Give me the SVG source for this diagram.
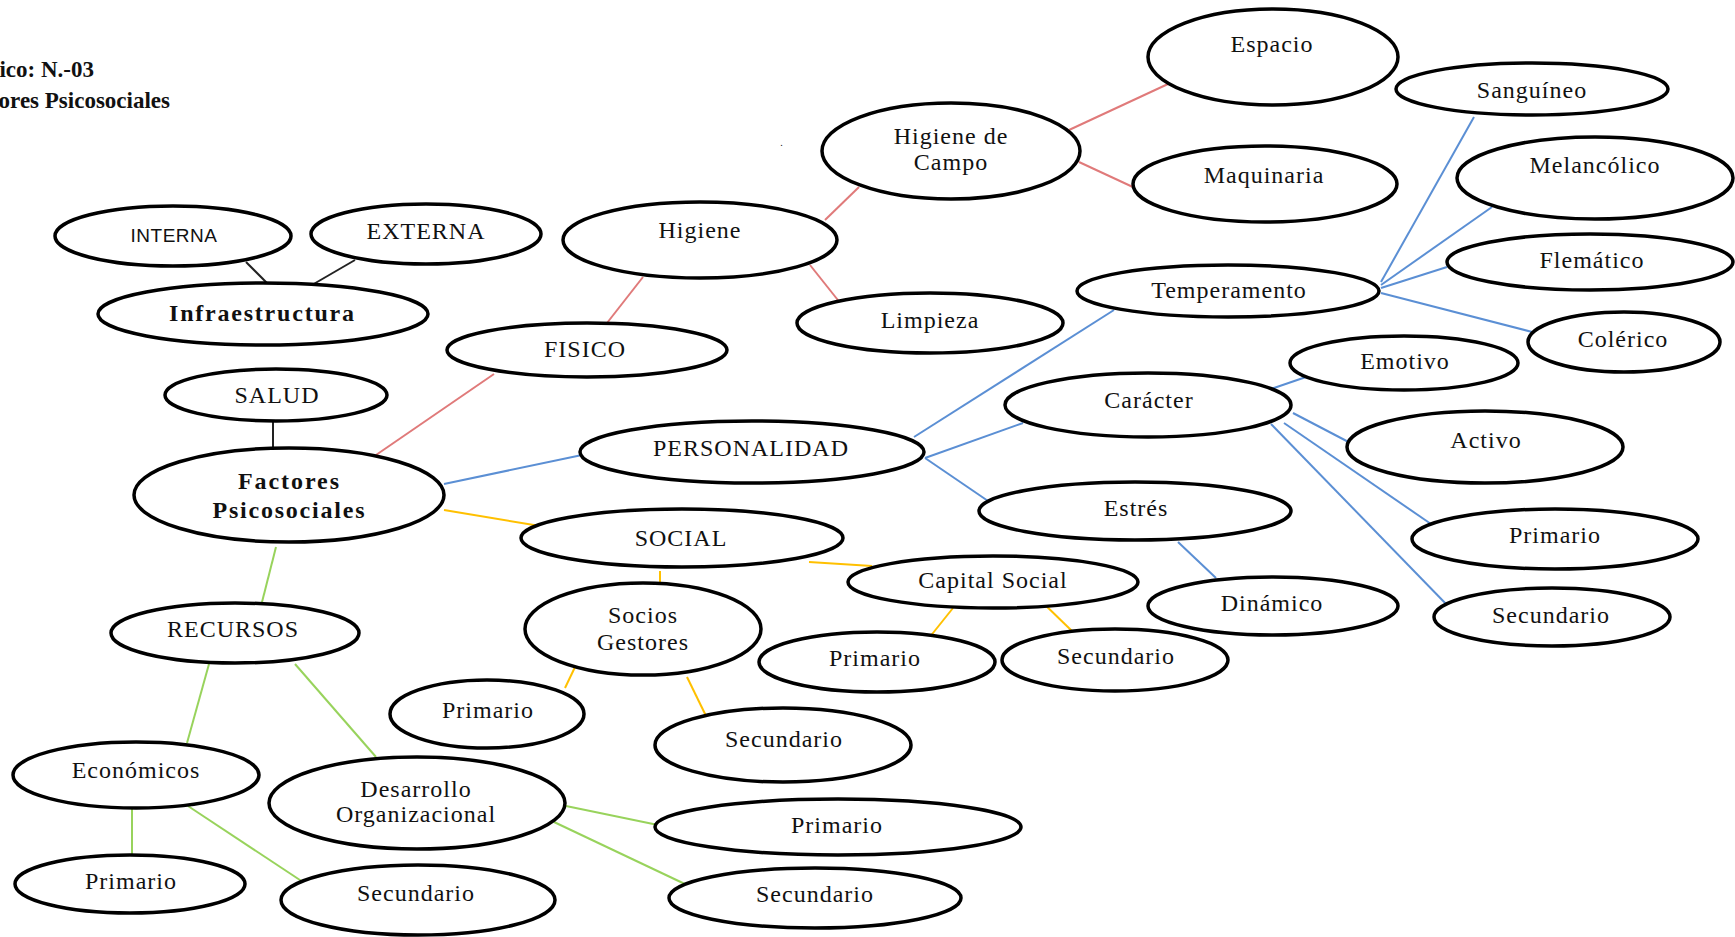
<svg xmlns="http://www.w3.org/2000/svg" width="1735" height="937" viewBox="0 0 1735 937">
<style>
.n ellipse{fill:#fff;stroke:#000;stroke-width:3.5}
text{font-family:"Liberation Serif","Times New Roman",serif;font-size:24px;fill:#111;text-anchor:middle;letter-spacing:1px}
.b{font-weight:bold}
.s{font-family:"Liberation Sans",Arial,sans-serif;font-size:19px;letter-spacing:0.5px}
.t{font-weight:bold;font-size:23px;text-anchor:end;letter-spacing:0}
#connectors line{stroke-width:2;fill:none}
.k{stroke:#222}
.r{stroke:#e07a7a}
.u{stroke:#5b8fd4}
.y{stroke:#ffc000}
.g{stroke:#98d35c}
</style>
<rect width="1735" height="937" fill="#fff"/>
<g id="title">
<text class="t" x="94" y="77">ico: N.-03</text>
<text class="t" x="170" y="108">ores Psicosociales</text>
<text x="782" y="146" style="font-size:10px">.</text>
</g>
<g id="connectors">
<line class="k" x1="246" y1="262" x2="269" y2="285"/>
<line class="k" x1="355" y1="260" x2="312" y2="285"/>
<line class="k" x1="273" y1="421" x2="273" y2="449"/>
<line class="r" x1="376" y1="455" x2="494" y2="374"/>
<line class="r" x1="607" y1="323" x2="643" y2="277"/>
<line class="r" x1="825" y1="220" x2="859" y2="187"/>
<line class="r" x1="810" y1="265" x2="845" y2="309"/>
<line class="r" x1="1069" y1="130" x2="1168" y2="84"/>
<line class="r" x1="1079" y1="162" x2="1135" y2="188"/>
<line class="u" x1="444" y1="484" x2="582" y2="455"/>
<line class="u" x1="914" y1="437" x2="1114" y2="310"/>
<line class="u" x1="925" y1="458" x2="1023" y2="423"/>
<line class="u" x1="925" y1="458" x2="991" y2="503"/>
<line class="u" x1="1381" y1="282" x2="1474" y2="117"/>
<line class="u" x1="1381" y1="285" x2="1492" y2="207"/>
<line class="u" x1="1381" y1="288" x2="1447" y2="267"/>
<line class="u" x1="1381" y1="293" x2="1540" y2="334"/>
<line class="u" x1="1271" y1="389" x2="1306" y2="377"/>
<line class="u" x1="1293" y1="413" x2="1360" y2="448"/>
<line class="u" x1="1284" y1="423" x2="1431" y2="524"/>
<line class="u" x1="1271" y1="424" x2="1449" y2="607"/>
<line class="u" x1="1178" y1="542" x2="1216" y2="578"/>
<line class="y" x1="444" y1="510" x2="540" y2="526"/>
<line class="y" x1="809" y1="562" x2="872" y2="566"/>
<line class="y" x1="660" y1="571" x2="660" y2="590"/>
<line class="y" x1="576" y1="665" x2="565" y2="688"/>
<line class="y" x1="687" y1="677" x2="708" y2="720"/>
<line class="y" x1="953" y1="608" x2="929" y2="638"/>
<line class="y" x1="1040" y1="600" x2="1072" y2="631"/>
<line class="g" x1="276" y1="547" x2="260" y2="610"/>
<line class="g" x1="209" y1="664" x2="187" y2="743"/>
<line class="g" x1="295" y1="664" x2="376" y2="757"/>
<line class="g" x1="132" y1="809" x2="132" y2="855"/>
<line class="g" x1="188" y1="806" x2="309" y2="886"/>
<line class="g" x1="566" y1="806" x2="658" y2="825"/>
<line class="g" x1="554" y1="822" x2="687" y2="885"/>
</g>
<g id="interna" class="n"><ellipse cx="173" cy="236" rx="118" ry="30"/><text class="s" x="174" y="242">INTERNA</text></g>
<g id="externa" class="n"><ellipse cx="426" cy="234" rx="115" ry="30"/><text x="426" y="239">EXTERNA</text></g>
<g id="infraestructura" class="n"><ellipse cx="263" cy="314" rx="165" ry="31"/><text class="b" x="262" y="321" textLength="186" lengthAdjust="spacing">Infraestructura</text></g>
<g id="salud" class="n"><ellipse cx="276" cy="395" rx="111" ry="26"/><text x="277" y="403">SALUD</text></g>
<g id="factores" class="n"><ellipse cx="289" cy="495" rx="155" ry="47"/><text class="b" x="289" y="489" textLength="102" lengthAdjust="spacing">Factores</text><text class="b" x="289" y="518" textLength="153" lengthAdjust="spacing">Psicosociales</text></g>
<g id="fisico" class="n"><ellipse cx="587" cy="350" rx="140" ry="27"/><text x="585" y="357">FISICO</text></g>
<g id="higiene" class="n"><ellipse cx="700" cy="240" rx="137" ry="38"/><text x="700" y="238">Higiene</text></g>
<g id="higiene-campo" class="n"><ellipse cx="951" cy="151" rx="129" ry="48"/><text x="951" y="144">Higiene de</text><text x="951" y="170">Campo</text></g>
<g id="limpieza" class="n"><ellipse cx="930" cy="323" rx="133" ry="30"/><text x="930" y="328">Limpieza</text></g>
<g id="espacio" class="n"><ellipse cx="1273" cy="57" rx="125" ry="48"/><text x="1272" y="52">Espacio</text></g>
<g id="maquinaria" class="n"><ellipse cx="1265" cy="184" rx="132" ry="38"/><text x="1264" y="183">Maquinaria</text></g>
<g id="sanguineo" class="n"><ellipse cx="1532" cy="89" rx="136" ry="26"/><text x="1532" y="98">Sanguíneo</text></g>
<g id="melancolico" class="n"><ellipse cx="1595" cy="178" rx="138" ry="41"/><text x="1595" y="173">Melancólico</text></g>
<g id="flematico" class="n"><ellipse cx="1590" cy="262" rx="143" ry="28"/><text x="1592" y="268">Flemático</text></g>
<g id="temperamento" class="n"><ellipse cx="1228" cy="291" rx="151" ry="26"/><text x="1229" y="298">Temperamento</text></g>
<g id="colerico" class="n"><ellipse cx="1624" cy="342" rx="96" ry="30"/><text x="1623" y="347">Colérico</text></g>
<g id="emotivo" class="n"><ellipse cx="1404" cy="363" rx="114" ry="27"/><text x="1405" y="369">Emotivo</text></g>
<g id="caracter" class="n"><ellipse cx="1148" cy="405" rx="143" ry="32"/><text x="1149" y="408">Carácter</text></g>
<g id="activo" class="n"><ellipse cx="1485" cy="447" rx="138" ry="36"/><text x="1486" y="448">Activo</text></g>
<g id="estres" class="n"><ellipse cx="1135" cy="511" rx="156" ry="29"/><text x="1136" y="516">Estrés</text></g>
<g id="primario-caracter" class="n"><ellipse cx="1555" cy="539" rx="143" ry="30"/><text x="1555" y="543">Primario</text></g>
<g id="dinamico" class="n"><ellipse cx="1273" cy="606" rx="125" ry="29"/><text x="1272" y="611">Dinámico</text></g>
<g id="secundario-caracter" class="n"><ellipse cx="1552" cy="617" rx="118" ry="29"/><text x="1551" y="623">Secundario</text></g>
<g id="personalidad" class="n"><ellipse cx="752" cy="452" rx="172" ry="31"/><text x="751" y="456">PERSONALIDAD</text></g>
<g id="social" class="n"><ellipse cx="682" cy="538" rx="161" ry="29"/><text x="681" y="546">SOCIAL</text></g>
<g id="capital-social" class="n"><ellipse cx="993" cy="582" rx="145" ry="26"/><text x="993" y="588">Capital Social</text></g>
<g id="socios-gestores" class="n"><ellipse cx="643" cy="629" rx="118" ry="46"/><text x="643" y="623">Socios</text><text x="643" y="650">Gestores</text></g>
<g id="primario-capital" class="n"><ellipse cx="877" cy="662" rx="118" ry="30"/><text x="875" y="666">Primario</text></g>
<g id="secundario-capital" class="n"><ellipse cx="1115" cy="660" rx="113" ry="31"/><text x="1116" y="664">Secundario</text></g>
<g id="secundario-socios" class="n"><ellipse cx="783" cy="745" rx="128" ry="37"/><text x="784" y="747">Secundario</text></g>
<g id="primario-socios" class="n"><ellipse cx="487" cy="714" rx="97" ry="34"/><text x="488" y="718">Primario</text></g>
<g id="primario-desarrollo" class="n"><ellipse cx="838" cy="827" rx="183" ry="28"/><text x="837" y="833">Primario</text></g>
<g id="secundario-desarrollo" class="n"><ellipse cx="815" cy="898" rx="146" ry="30"/><text x="815" y="902">Secundario</text></g>
<g id="recursos" class="n"><ellipse cx="235" cy="633" rx="124" ry="30"/><text x="233" y="637">RECURSOS</text></g>
<g id="economicos" class="n"><ellipse cx="136" cy="775" rx="123" ry="33"/><text x="136" y="778">Económicos</text></g>
<g id="desarrollo" class="n"><ellipse cx="417" cy="803" rx="148" ry="46"/><text x="416" y="797">Desarrollo</text><text x="416" y="822">Organizacional</text></g>
<g id="primario-economicos" class="n"><ellipse cx="130" cy="884" rx="115" ry="29"/><text x="131" y="889">Primario</text></g>
<g id="secundario-economicos" class="n"><ellipse cx="418" cy="900" rx="137" ry="35"/><text x="416" y="901">Secundario</text></g>
</svg>
